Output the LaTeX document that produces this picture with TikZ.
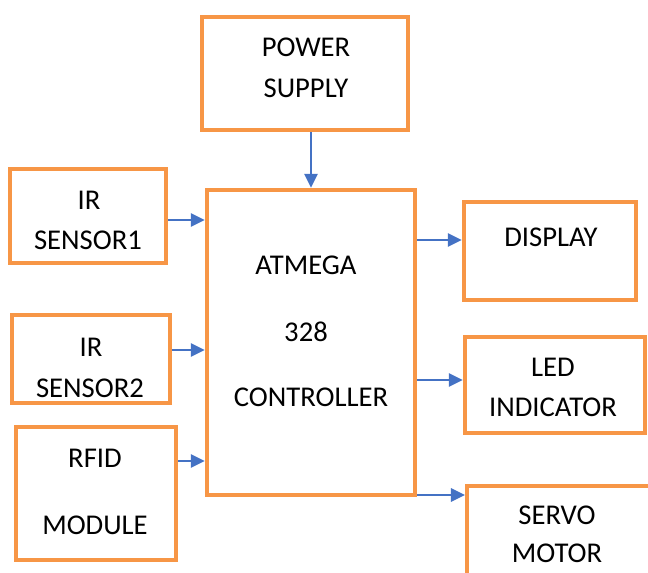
\documentclass[tikz,border=0pt]{standalone}
\usepackage{fontspec}
\setmainfont{Carlito}
\usetikzlibrary{arrows.meta}
\definecolor{boxorange}{RGB}{247,150,70}
\definecolor{flowblue}{RGB}{68,114,196}

\begin{document}
\begin{tikzpicture}[
    x=0.02cm, y=-0.02cm,
    >={Triangle[length=8pt, width=7.5pt]},
    blockbox/.style={draw=boxorange, line width=2.5pt, fill=white, inner sep=0pt},
    blocktext/.style={font=\fontsize{16.3}{19}\selectfont, inner sep=0pt, text=black},
    flow/.style={flowblue, line width=1.3pt, ->}
]

% Frame (the reference is cut off at the right and bottom)
\useasboundingbox (0,0) rectangle (648,572);
\clip (0,0) rectangle (648,572);

% Blocks
\node[blockbox, minimum width=4.12cm, minimum height=2.26cm] (power) at (305,73.5) {};
\node[blockbox, minimum width=4.16cm, minimum height=6.1cm] (ctrl) at (311,342.5) {};
\node[blockbox, minimum width=3.12cm, minimum height=1.88cm] (ir1) at (88,216) {};
\node[blockbox, minimum width=3.16cm, minimum height=1.76cm] (ir2) at (91,359) {};
\node[blockbox, minimum width=3.2cm, minimum height=2.66cm] (rfid) at (96,493.5) {};
\node[blockbox, minimum width=3.44cm, minimum height=1.96cm] (disp) at (550,251) {};
\node[blockbox, minimum width=3.6cm, minimum height=1.92cm] (led) at (555,385) {};
\node[blockbox, minimum width=4cm, minimum height=3cm, anchor=north west] (servo) at (465,484) {};

% Block texts
\node[blocktext] (powerA) at (306,47) {POWER};
\node[blocktext] (powerB) at (306,88) {SUPPLY};
\node[blocktext] (ctrlA) at (306,265) {ATMEGA};
\node[blocktext] (ctrlB) at (306,332) {328};
\node[blocktext] (ctrlC) at (311,397) {CONTROLLER};
\node[blocktext] (irA) at (89,200) {IR};
\node[blocktext] (irB) at (88,240) {SENSOR1};
\node[blocktext] (irC) at (91,347) {IR};
\node[blocktext] (irD) at (90,388) {SENSOR2};
\node[blocktext] (rfidA) at (95,458) {RFID};
\node[blocktext] (rfidB) at (95,525) {MODULE};
\node[blocktext] (dispA) at (551,237) {DISPLAY};
\node[blocktext] (ledA) at (553,367) {LED};
\node[blocktext] (ledB) at (553,407) {INDICATOR};
\node[blocktext] (servoA) at (557,515) {SERVO};
\node[blocktext] (servoB) at (557,553) {MOTOR};

% Inputs
\draw[flow] (power.south -| ctrl.north) -- (ctrl.north);
\coordinate (i1) at ([yshift=-0.08cm]ir1.east);
\draw[flow] (i1) -- (i1 -| ctrl.west);
\coordinate (i2) at ([yshift=0.18cm]ir2.east);
\draw[flow] (i2) -- (i2 -| ctrl.west);
\coordinate (i3) at ([yshift=0.65cm]rfid.east);
\draw[flow] (i3) -- (i3 -| ctrl.west);

% Outputs
\coordinate (o1) at ([yshift=0.22cm]disp.west);
\draw[flow] (o1 -| ctrl.east) -- (o1);
\coordinate (o2) at ([yshift=0.1cm]led.west);
\draw[flow] (o2 -| ctrl.east) -- (o2);
\coordinate (o3) at ([yshift=-0.22cm]servo.north west);
\draw[flow] (o3 -| ctrl.east) -- (o3);

\end{tikzpicture}
\end{document}
